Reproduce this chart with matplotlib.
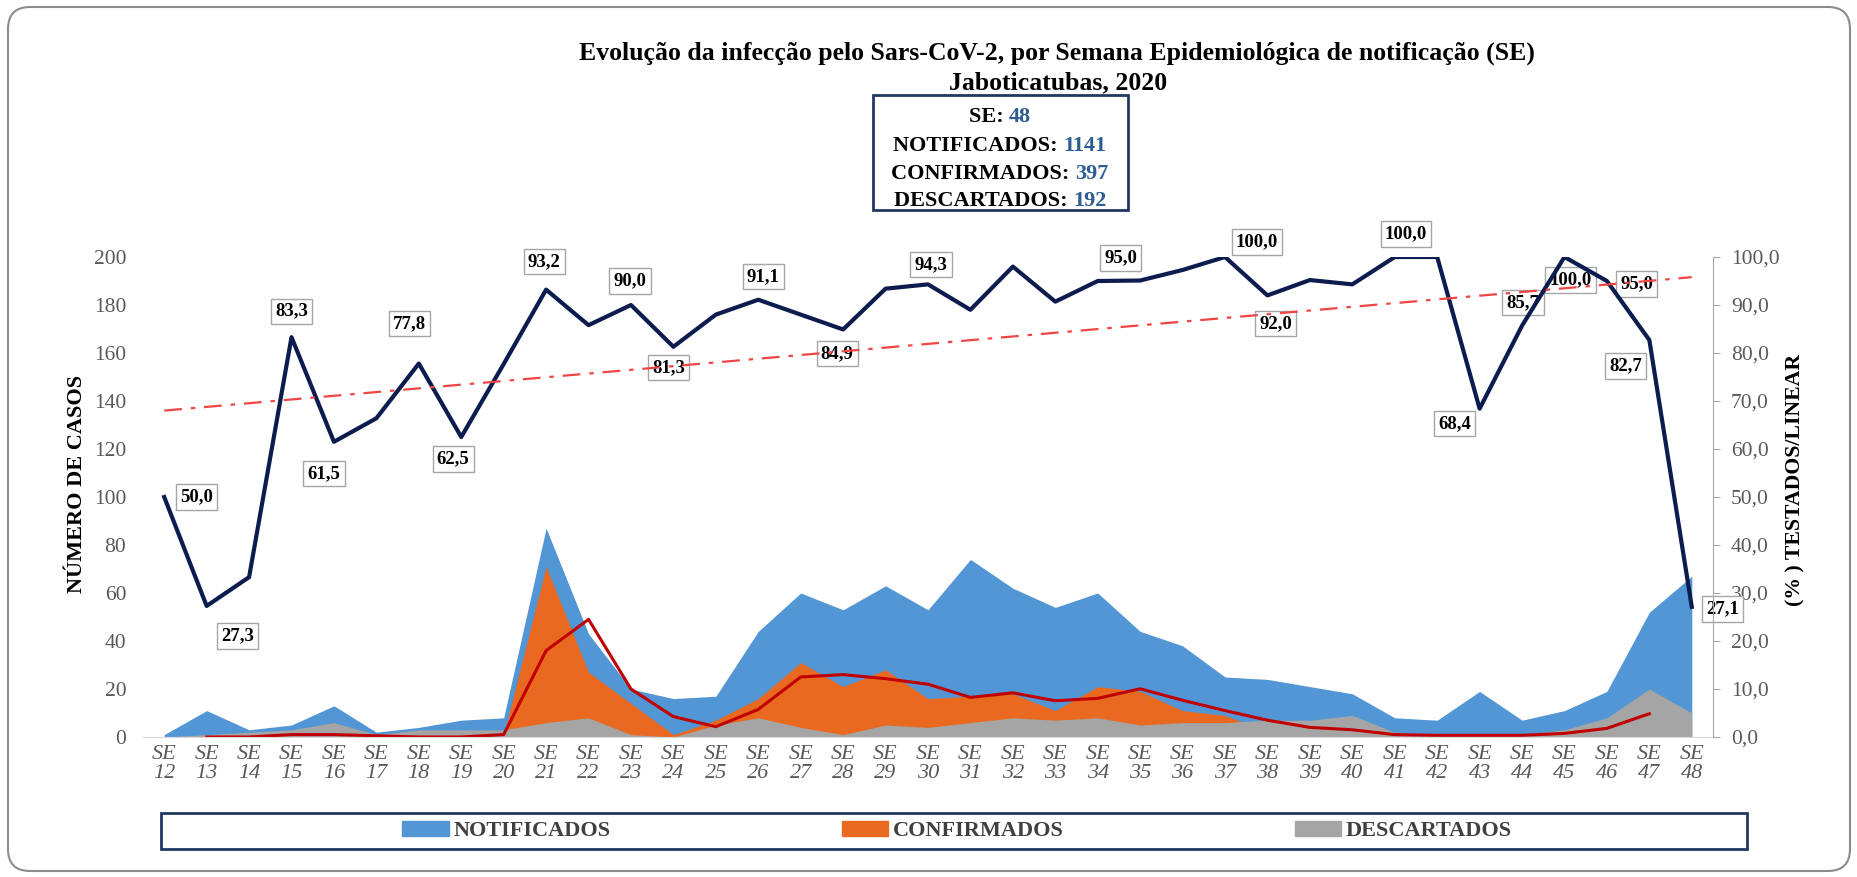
import matplotlib
matplotlib.use("Agg")
import matplotlib.pyplot as plt
import numpy as np
from matplotlib.patches import Rectangle, FancyBboxPatch, Patch
from matplotlib.transforms import IdentityTransform

plt.rcParams['font.family'] = ['Liberation Serif', 'DejaVu Serif']

# dados
semanas = list(range(12, 49))
notificados = [1, 11, 3, 5, 13, 2, 4, 7, 8, 87, 43, 20, 16, 17, 44, 60, 53, 63, 53, 74,
               62, 54, 60, 44, 38, 25, 24, 21, 18, 8, 7, 19, 7, 11, 19, 52, 67]
confirmados = [0, 0, 0, 1, 1, 0, 0, 0, 1, 71, 27, 14, 1, 7, 16, 31, 21, 28, 16, 17,
               18, 11, 21, 19, 11, 9, 2, 5, 1, 1, 1, 0, 1, 2, 5, 14, 0]
descartados = [0, 1, 2, 3, 6, 1, 3, 3, 3, 6, 8, 1, 0, 5, 8, 4, 1, 5, 4, 6,
               8, 7, 8, 5, 6, 6, 7, 7, 9, 2, 1, 1, 1, 3, 8, 20, 10]
media_movel = [np.nan, 0, 0, 1, 1, 0.5, 0, 0, 1, 36, 49, 20, 8.5, 4.3, 11.5, 25, 26, 24.3, 22, 16.5,
               18.4, 15.1, 16.1, 20.1, 15.3, 11, 7, 4, 3, 1, 0.7, 0.7, 0.7, 1.5, 3.6, 9.7, np.nan]
testados = [50.0, 27.3, 33.3, 83.3, 61.5, 66.4, 77.8, 62.5, 77.7, 93.2, 85.8, 90.0, 81.3, 88.0,
            91.1, 88.0, 84.9, 93.4, 94.3, 89.0, 98.0, 90.7, 95.0, 95.1, 97.3, 100.0, 92.0, 95.2,
            94.3, 100.0, 100.0, 68.4, 85.7, 100.0, 95.0, 82.7, 27.1]
tendencia = [68.0, 95.8]  # linear, SE 12 e SE 48
resumo = [("SE: ", "48"), ("NOTIFICADOS: ", "1141"), ("CONFIRMADOS: ", "397"), ("DESCARTADOS: ", "192")]

# posicao dos rotulos (pixels em relacao ao ponto, y positivo para baixo)
rotulos = {12: (32, 0), 13: (31, 30), 15: (0, -26), 16: (-10, 32), 18: (-9, -40), 19: (-8, 22),
           21: (-2, -28), 23: (-1, -24), 24: (-5, 21), 26: (5, -23), 28: (-6, 24), 30: (3, -20),
           34: (23, -23), 37: (32, -15), 38: (8, 28), 41: (11, -23), 43: (-25, 15), 44: (1, -23),
           45: (6, 23), 46: (30, 3), 47: (-24, 26), 48: (31, 2)}

AZUL = '#5296D5'
LARANJA = '#E8691F'
CINZA = '#A5A5A5'
MARINHO = '#0D1C4E'
TXT = '#595959'

W, H = 1858, 877


def fx(px):
    return px / W


def fy(py):
    return 1 - py / H


fig = plt.figure(figsize=(W / 100, H / 100), dpi=100)
ax = fig.add_axes([fx(143), fy(737), fx(1713) - fx(143), fy(257) - fy(737)])
x = np.arange(len(semanas))

ax.fill_between(x, 0, notificados, color=AZUL, lw=0)
ax.fill_between(x, 0, confirmados, color=LARANJA, lw=0)
ax.fill_between(x, 0, descartados, color=CINZA, lw=0)
ax.plot(x, media_movel, color='#C00000', lw=2.2)

ax.set_xlim(-0.5, len(semanas) - 0.5)
ax.set_ylim(0, 200)
ax.set_yticks(range(0, 201, 20))
ax.set_xticks(x, [f"SE\n{s}" for s in semanas])
ax.tick_params(axis='y', length=0, pad=12, labelsize=15.5, labelcolor=TXT)
ax.tick_params(axis='x', length=0, pad=6, labelsize=16, labelcolor=TXT)
for t in ax.get_xticklabels():
    t.set_fontstyle('italic')
    t.set_linespacing(1.0)
for s in ['left', 'right', 'top']:
    ax.spines[s].set_visible(False)
ax.spines['bottom'].set_color('#D9D9D9')

ax2 = ax.twinx()
ax2.set_ylim(0, 100)
ax2.set_yticks(range(0, 101, 10))
ax2.set_yticklabels([f"{v:.1f}".replace('.', ',') for v in range(0, 101, 10)])
ax2.tick_params(axis='y', direction='out', length=5, color='#A6A6A6', pad=8,
                labelsize=15.5, labelcolor=TXT)
for s in ['left', 'top', 'bottom']:
    ax2.spines[s].set_visible(False)
ax2.spines['right'].set_color('#A6A6A6')

ax2.plot(x, testados, color=MARINHO, lw=3, zorder=3)
ax2.plot([x[0], x[-1]], tendencia, color='#F04545', lw=1.6, ls=(0, (8, 4, 2, 4)), zorder=4)

for sem, (dx, dy) in rotulos.items():
    i = semanas.index(sem)
    ax2.annotate(f"{testados[i]:.1f}".replace('.', ','), xy=(i, testados[i]),
                 xytext=(dx, -dy), textcoords='offset pixels', ha='center', va='center',
                 fontsize=13.5, fontweight='bold', color='black', zorder=2,
                 bbox=dict(boxstyle='square,pad=0.22', fc='white', ec='#A6A6A6', lw=1))

# titulos
fig.text(fx(1057), fy(53), "Evolução da infecção pelo Sars-CoV-2, por Semana Epidemiológica de notificação (SE)",
         ha='center', va='center', fontsize=18.5, fontweight='bold')
fig.text(fx(1058), fy(83), "Jaboticatubas, 2020", ha='center', va='center', fontsize=18.5, fontweight='bold')

fig.text(fx(77), fy(484), "NÚMERO DE CASOS", rotation=90, ha='center', va='center',
         fontsize=16, fontweight='bold')
fig.text(fx(1795), fy(480), "(% ) TESTADOS/LINEAR", rotation=90, ha='center', va='center',
         fontsize=15.7, fontweight='bold')

# caixa de resumo
fig.patches.append(Rectangle((fx(873), fy(210)), fx(1128) - fx(873), (210 - 95) / H,
                             transform=fig.transFigure, fc='white', ec='#1F3864', lw=2))
renderer = fig.canvas.get_renderer()
for (rot, val), yy in zip(resumo, [117, 146, 174, 201]):
    t1 = fig.text(0, fy(yy), rot, ha='left', va='center', fontsize=16, fontweight='bold', color='black')
    t2 = fig.text(0, fy(yy), val, ha='left', va='center', fontsize=16, fontweight='bold', color='#2E5D95')
    w1 = t1.get_window_extent(renderer).width
    w2 = t2.get_window_extent(renderer).width
    x0 = 1000 - (w1 + w2) / 2
    t1.set_x(fx(x0))
    t2.set_x(fx(x0 + w1))

# legenda
fig.patches.append(Rectangle((fx(161), fy(849)), fx(1747) - fx(161), (849 - 813) / H,
                             transform=fig.transFigure, fill=False, ec='#1F3864', lw=2))
handles = [Patch(color=AZUL, label='NOTIFICADOS'), Patch(color=LARANJA, label='CONFIRMADOS'),
           Patch(color=CINZA, label='DESCARTADOS')]
fig.legend(handles=handles, loc='center', bbox_to_anchor=(fx(957), fy(831)), ncol=3, frameon=False,
           prop={'family': 'Liberation Serif', 'weight': 'bold', 'size': 16},
           handlelength=2.1, handleheight=0.7, handletextpad=0.2, columnspacing=10.4,
           labelcolor='#404040')

# borda externa
fig.patches.append(FancyBboxPatch((8, 6), 1842, 864, boxstyle='round,pad=0,rounding_size=22',
                                  transform=IdentityTransform(), fill=False, ec='#8C8C8C', lw=1.5))

fig.savefig('out.png', dpi=100)
